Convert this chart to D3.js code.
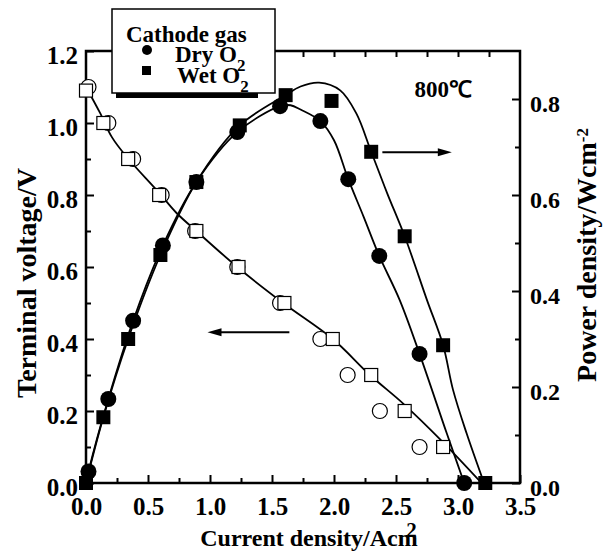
<!DOCTYPE html>
<html lang="en">
<head>
    <meta charset="UTF-8">
    <title>Terminal voltage and power density vs current density</title>
    <style>
        body {
            margin: 0;
            background: #ffffff;
        }
    </style>
</head>
<body>
    <div id="chart"></div>

    <script src="https://d3js.org/d3.v7.min.js"></script>

    <script>
        // Measured points: dry O2 (circles) and wet O2 (squares)
        const dryVoltI = [0.02, 0.18, 0.38, 0.61, 0.88, 1.22, 1.565, 1.89, 2.11, 2.37, 2.69];
        const dryVolt  = [1.10, 1.00, 0.90, 0.80, 0.70, 0.60, 0.50, 0.40, 0.30, 0.20, 0.10];
        const wetVoltI = [0.00, 0.14, 0.34, 0.59, 0.89, 1.23, 1.60, 1.99, 2.30, 2.57, 2.88];
        const wetVolt  = [1.09, 1.00, 0.90, 0.80, 0.70, 0.60, 0.50, 0.40, 0.30, 0.20, 0.10];

        const dryPowI = [0.02, 0.18, 0.38, 0.62, 0.89, 1.22, 1.565, 1.89, 2.115, 2.365, 2.69, 3.05];
        const dryPow  = [0.024, 0.175, 0.338, 0.495, 0.627, 0.731, 0.785, 0.754, 0.633, 0.473, 0.269, 0.0];
        const wetPowI = [0.00, 0.14, 0.34, 0.60, 0.89, 1.24, 1.61, 1.98, 2.30, 2.57, 2.88, 3.22];
        const wetPow  = [0.0, 0.137, 0.300, 0.475, 0.627, 0.745, 0.808, 0.796, 0.690, 0.514, 0.287, 0.0];

        // Fitted curves
        const fitVoltI = [0.00, 0.11, 0.21, 0.33, 0.58, 0.73, 0.89, 1.22, 1.59, 1.99, 2.29, 2.56, 2.86, 3.19];
        const fitVolt  = [1.10, 1.03, 0.96, 0.905, 0.81, 0.75, 0.70, 0.60, 0.50, 0.40, 0.30, 0.22, 0.12, 0.0];

        const fitDryI = [0.00, 0.02, 0.18, 0.38, 0.62, 0.89, 1.22, 1.565, 1.65, 1.73, 1.89, 2.00, 2.115, 2.24, 2.365, 2.53, 2.69, 2.91, 3.05];
        const fitDryP = [0.0, 0.024, 0.175, 0.338, 0.495, 0.627, 0.731, 0.785, 0.787, 0.778, 0.754, 0.714, 0.633, 0.554, 0.473, 0.381, 0.269, 0.103, 0.0];
        const fitWetI = [0.00, 0.14, 0.34, 0.60, 0.89, 1.24, 1.61, 1.73, 1.88, 2.05, 2.18, 2.30, 2.43, 2.57, 2.75, 2.88, 2.96, 3.07, 3.21];
        const fitWetP = [0.0, 0.137, 0.300, 0.475, 0.627, 0.745, 0.808, 0.826, 0.834, 0.818, 0.770, 0.690, 0.603, 0.514, 0.381, 0.287, 0.194, 0.103, 0.0];

        const xTicks = [0, 0.5, 1.0, 1.5, 2.0, 2.5, 3.0, 3.5];
        const yLeftTicks = [0, 0.2, 0.4, 0.6, 0.8, 1.0, 1.2];
        const yRightTicks = [0, 0.2, 0.4, 0.6, 0.8];

        const FONT = "Liberation Serif";
        const zip = (a, b) => a.map((v, i) => [v, b[i]]);

        const width = 603, height = 551;
        const svg = d3.select("#chart").append("svg")
            .attr("width", width)
            .attr("height", height);

        function label(parent, size) {
            return parent.append("text")
                .attr("font-family", FONT)
                .attr("font-weight", "bold")
                .attr("font-size", size)
                .attr("fill", "#000");
        }

        const x = d3.scaleLinear().domain([0, 3.5]).range([86, 520]);
        const yV = d3.scaleLinear().domain([0, 1.2]).range([483, 51]);
        const yP = d3.scaleLinear().domain([0, 0.9]).range([483, 51]);

        const fmt = d3.format(".1f");

        // axes (ticks point inward)
        function styleAxis(g, size) {
            g.select(".domain").remove();
            g.selectAll(".tick line").attr("stroke", "#000").attr("stroke-width", 2);
            g.selectAll(".tick text")
                .attr("font-family", FONT).attr("font-weight", "bold")
                .attr("font-size", size).attr("fill", "#000");
        }

        svg.append("g").attr("transform", "translate(0,483)")
            .call(d3.axisBottom(x).tickValues(xTicks).tickFormat(fmt).tickSizeInner(-8).tickSizeOuter(0).tickPadding(14))
            .call(g => styleAxis(g, 25));
        svg.append("g").attr("transform", "translate(0,483)")
            .call(d3.axisBottom(x).tickValues(xTicks.slice(1).map(d => d - 0.25)).tickFormat("").tickSizeInner(-5).tickSizeOuter(0))
            .call(g => styleAxis(g, 0));
        svg.append("g").attr("transform", "translate(0,51)")
            .call(d3.axisTop(x).tickValues(d3.range(0, 3.5, 0.25).slice(1)).tickFormat("").tickSizeInner(-6).tickSizeOuter(0))
            .call(g => styleAxis(g, 0));

        svg.append("g").attr("transform", "translate(86,0)")
            .call(d3.axisLeft(yV).tickValues(yLeftTicks).tickFormat(fmt).tickSizeInner(-8).tickSizeOuter(0).tickPadding(8))
            .call(g => styleAxis(g, 25))
            .call(g => g.selectAll(".tick text").attr("dy", "0.5em"));
        svg.append("g").attr("transform", "translate(86,0)")
            .call(d3.axisLeft(yV).tickValues(yLeftTicks.slice(1).map(d => d - 0.1)).tickFormat("").tickSizeInner(-5).tickSizeOuter(0))
            .call(g => styleAxis(g, 0));

        svg.append("g").attr("transform", "translate(520,0)")
            .call(d3.axisRight(yP).tickValues(yRightTicks).tickFormat(fmt).tickSizeInner(-8).tickSizeOuter(0).tickPadding(10))
            .call(g => styleAxis(g, 24))
            .call(g => g.selectAll(".tick text").attr("dy", "0.5em"));
        svg.append("g").attr("transform", "translate(520,0)")
            .call(d3.axisRight(yP).tickValues([0.1, 0.3, 0.5, 0.7]).tickFormat("").tickSizeInner(-5).tickSizeOuter(0))
            .call(g => styleAxis(g, 0));

        // frame
        svg.append("rect")
            .attr("x", x(0)).attr("y", yV(1.2))
            .attr("width", x(3.5) - x(0)).attr("height", yV(0) - yV(1.2))
            .attr("fill", "none").attr("stroke", "#000").attr("stroke-width", 2.5);

        // fitted lines
        const lineV = d3.line().x(d => x(d[0])).y(d => yV(d[1])).curve(d3.curveCatmullRom.alpha(0.5));
        const lineP = d3.line().x(d => x(d[0])).y(d => yP(d[1])).curve(d3.curveCatmullRom.alpha(0.5));

        [[lineV, zip(fitVoltI, fitVolt)], [lineP, zip(fitDryI, fitDryP)], [lineP, zip(fitWetI, fitWetP)]]
            .forEach(([ln, pts]) => {
                svg.append("path").attr("d", ln(pts))
                    .attr("fill", "none").attr("stroke", "#000").attr("stroke-width", 1.8);
            });

        // open markers (voltage)
        svg.append("g").selectAll("circle").data(zip(dryVoltI, dryVolt)).enter().append("circle")
            .attr("cx", d => x(d[0])).attr("cy", d => yV(d[1])).attr("r", 7.5)
            .attr("fill", "#fff").attr("stroke", "#000").attr("stroke-width", 1.2);
        svg.append("g").selectAll("rect").data(zip(wetVoltI, wetVolt)).enter().append("rect")
            .attr("x", d => x(d[0]) - 6.5).attr("y", d => yV(d[1]) - 6.5)
            .attr("width", 13).attr("height", 13)
            .attr("fill", "#fff").attr("stroke", "#000").attr("stroke-width", 1.2);

        // filled markers (power)
        svg.append("g").selectAll("circle").data(zip(dryPowI, dryPow)).enter().append("circle")
            .attr("cx", d => x(d[0])).attr("cy", d => yP(d[1])).attr("r", 8)
            .attr("fill", "#000");
        svg.append("g").selectAll("rect").data(zip(wetPowI, wetPow)).enter().append("rect")
            .attr("x", d => x(d[0]) - 7).attr("y", d => yP(d[1]) - 7)
            .attr("width", 14).attr("height", 14)
            .attr("fill", "#000");

        // arrows
        function arrow(x1, x2, yy) {
            const dir = Math.sign(x2 - x1);
            svg.append("line").attr("x1", x1).attr("x2", x2 - dir * 8).attr("y1", yy).attr("y2", yy)
                .attr("stroke", "#000").attr("stroke-width", 2);
            svg.append("path")
                .attr("d", `M${x2},${yy} L${x2 - dir * 14},${yy - 4} L${x2 - dir * 14},${yy + 4} Z`)
                .attr("fill", "#000");
        }
        arrow(x(1.64), x(0.98), yV(0.419));
        arrow(x(2.39), x(2.95), yP(0.689));

        // temperature label
        label(svg, 23).attr("x", x(2.65)).attr("y", yP(0.804)).text("800℃");

        // axis titles
        const xt = label(svg, 24).attr("x", 309).attr("y", 546).attr("text-anchor", "middle");
        xt.append("tspan").text("Current density/Acm");
        xt.append("tspan").attr("dx", "-0.55em").attr("dy", "-0.45em").attr("font-size", 21).text("2");

        label(svg, 28)
            .attr("transform", "translate(36,283) rotate(-90)")
            .attr("text-anchor", "middle")
            .text("Terminal voltage/V");

        const rt = label(svg, 28)
            .attr("transform", "translate(596,255) rotate(-90)")
            .attr("text-anchor", "middle");
        rt.append("tspan").text("Power density/Wcm");
        rt.append("tspan").attr("dy", "-0.5em").attr("font-size", 17).text("-2");

        // legend
        const lg = svg.append("g");
        lg.append("rect").attr("x", 116).attr("y", 93).attr("width", 142).attr("height", 5).attr("fill", "#000");
        lg.append("rect").attr("x", 112).attr("y", 9).attr("width", 163).attr("height", 84)
            .attr("fill", "#fff").attr("stroke", "#000").attr("stroke-width", 1.5);
        label(lg, 23).attr("x", 126).attr("y", 42).text("Cathode gas");
        lg.append("circle").attr("cx", 147).attr("cy", 50).attr("r", 5).attr("fill", "#000");
        lg.append("rect").attr("x", 142).attr("y", 66).attr("width", 9).attr("height", 9).attr("fill", "#000");
        const t1 = label(lg, 23).attr("x", 175).attr("y", 62);
        t1.append("tspan").text("Dry O");
        t1.append("tspan").attr("dy", 9).attr("font-size", 17).text("2");
        const t2 = label(lg, 23).attr("x", 177).attr("y", 83);
        t2.append("tspan").text("Wet O");
        t2.append("tspan").attr("dy", 9).attr("font-size", 17).text("2");
    </script>
</body>
</html>
